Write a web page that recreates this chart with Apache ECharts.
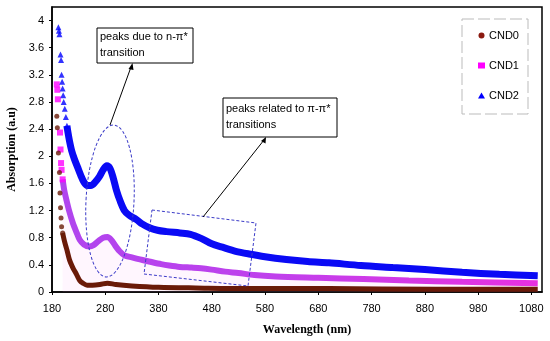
<!DOCTYPE html>
<html>
<head>
<meta charset="utf-8">
<script src="https://cdn.jsdelivr.net/npm/echarts@6/dist/echarts.min.js"></script>
<style>html,body{margin:0;padding:0;background:#fff}#c{width:550px;height:341px}</style>
</head>
<body>
<div id="c"></div>
<script>
// ---- data ----
const seriesNames = ['CND0', 'CND1', 'CND2'];
const xTitle = 'Wavelength (nm)';
const yTitle = 'Absorption (a.u)';

const cnd0 = [
  [189, 2.59], [190, 2.42], [192, 2.05], [194, 1.76], [195, 1.46], [196, 1.24], [197, 1.09],
  [198, 0.96], [200, 0.87], [204, 0.73], [208, 0.62], [213, 0.47], [219, 0.36], [226, 0.26],
  [232, 0.17], [238, 0.13], [246, 0.1], [256, 0.1], [270, 0.11], [284, 0.13], [300, 0.11],
  [330, 0.09], [380, 0.07], [450, 0.06], [550, 0.05], [700, 0.05], [900, 0.04], [1092, 0.04]
];
const cnd1 = [
  [189, 3.06], [190, 2.98], [191, 2.84], [195, 2.35], [196, 2.1], [197, 1.9], [198, 1.8],
  [200, 1.66], [203, 1.5], [207, 1.36], [212, 1.2], [219, 1.02], [226, 0.88], [232, 0.77],
  [240, 0.7], [250, 0.67], [258, 0.69], [267, 0.75], [276, 0.8], [284, 0.81], [291, 0.77],
  [299, 0.68], [307, 0.6], [316, 0.54], [330, 0.51], [345, 0.48], [362, 0.45], [385, 0.41],
  [400, 0.39], [420, 0.37], [442, 0.36], [460, 0.35], [480, 0.33], [505, 0.3], [530, 0.28],
  [560, 0.25], [600, 0.23], [680, 0.21], [765, 0.19], [850, 0.17], [950, 0.15], [1092, 0.13]
];
const cnd2 = [
  [192, 3.9], [193, 3.85], [194, 3.8], [196, 3.5], [197, 3.42], [198, 3.2], [199, 3.1],
  [200, 3.0], [201, 2.9], [202, 2.8], [204, 2.7], [206, 2.58], [208, 2.45], [210, 2.35],
  [213, 2.22], [217, 2.08], [222, 1.96], [228, 1.84], [234, 1.72], [240, 1.62], [246, 1.57],
  [253, 1.57], [261, 1.62], [269, 1.7], [276, 1.8], [283, 1.86], [289, 1.82], [295, 1.68],
  [301, 1.5], [308, 1.34], [316, 1.2], [325, 1.13], [338, 1.07], [350, 1.0], [362, 0.95],
  [378, 0.91], [395, 0.89], [420, 0.87], [440, 0.85], [460, 0.79], [480, 0.71], [500, 0.66],
  [525, 0.6], [550, 0.56], [580, 0.52], [620, 0.48], [660, 0.45], [700, 0.43], [760, 0.39],
  [820, 0.36], [880, 0.33], [950, 0.29], [1020, 0.26], [1092, 0.24]
];

const xMin = 180, xMax = 1100, xStep = 100;
const yMin = 0, yMax = 4.2, yStep = 0.4;

const annotationText1 = 'peaks due to n-π*\ntransition';
const annotationText2 = 'peaks related to π-π*\ntransitions';

// ---- chart ----
const chart = echarts.init(document.getElementById('c'), null, {renderer: 'canvas'});
const labelFont = {color: '#000', fontFamily: 'Liberation Sans, Arial', fontSize: 11};
const titleFont = {color: '#000', fontFamily: 'Liberation Serif, Times New Roman', fontSize: 12, fontWeight: 'bold'};
const dash = [3, 2];

// Where sampled points are sparse (steep start) they show as separate markers;
// after that they merge into a thick continuous band.
function makeSeries(name, data, split, symbol, symbolSize, markerColor, lineColor, lineWidth, z, extra) {
  const sparse = data.filter(p => p[0] <= split);
  const dense = data.filter(p => p[0] >= split);
  return [
    Object.assign({
      name: name, type: 'line', data: dense, smooth: 0.3, showSymbol: false,
      itemStyle: {color: markerColor},
      lineStyle: {color: lineColor, width: lineWidth}, z: z
    }, extra || {}),
    {
      name: name, type: 'scatter', data: sparse, symbol: symbol, symbolSize: symbolSize,
      itemStyle: {color: markerColor}, z: z
    }
  ];
}

const magentaGrad = new echarts.graphic.LinearGradient(0, 0, 1, 0, [
  {offset: 0, color: '#b045ee'}, {offset: 0.45, color: '#c040ec'}, {offset: 1, color: '#e830e0'}
]);

chart.setOption({
  animation: false,
  backgroundColor: '#fff',
  grid: {left: 52, right: 8, top: 7, bottom: 49, show: true, borderColor: '#000', borderWidth: 1.5,
    backgroundColor: 'transparent', containLabel: false, outerBoundsMode: 'none'},
  xAxis: {
    type: 'value', min: xMin, max: xMax, interval: xStep,
    name: xTitle, nameLocation: 'middle', nameGap: 32,
    nameTextStyle: Object.assign({}, titleFont, {padding: [0, 0, 0, 20]}),
    axisLine: {show: true, lineStyle: {color: '#000', width: 1.5}},
    axisTick: {show: true, length: 3, lineStyle: {color: '#000'}},
    axisLabel: Object.assign({}, labelFont, {margin: 11, showMaxLabel: false, formatter: v => String(v)}),
    splitLine: {show: false}
  },
  yAxis: {
    type: 'value', min: yMin, max: yMax, interval: yStep,
    name: yTitle, nameLocation: 'middle', nameGap: 25, nameTextStyle: titleFont,
    axisLine: {show: true, lineStyle: {color: '#000', width: 1.5}},
    axisTick: {show: true, length: 3, lineStyle: {color: '#000'}},
    axisLabel: Object.assign({}, labelFont, {margin: 8, showMaxLabel: false,
      formatter: v => String(Math.round(v * 10) / 10)}),
    splitLine: {show: false}
  },
  legend: {
    orient: 'vertical', left: 473, top: 25, itemGap: 19, itemWidth: 7, itemHeight: 6,
    textStyle: Object.assign({}, labelFont, {fontSize: 11, padding: [0, 0, 0, -1]}),
    data: [
      {name: seriesNames[0], icon: 'circle', itemStyle: {color: '#8b1a10'}},
      {name: seriesNames[1], icon: 'rect', itemStyle: {color: '#ff00ff'}},
      {name: seriesNames[2], icon: 'triangle', itemStyle: {color: '#0000ff'}}
    ]
  },
  series: [].concat(
    makeSeries(seriesNames[1], cnd1, 200, 'rect', 6, '#ff00ff', magentaGrad, 6, 2,
      {areaStyle: {color: 'rgba(255,150,240,0.13)'}}),
    makeSeries(seriesNames[0], cnd0, 200, 'circle', 5, '#6a1a08', '#6a1a08', 5, 3),
    makeSeries(seriesNames[2], cnd2, 208, 'triangle', 6, '#0000ff', '#0a0af5', 7, 4)
  ),
  graphic: [
    // legend frame
    {type: 'rect', z: 1, shape: {x: 462, y: 19, width: 66, height: 95},
      style: {fill: '#fff', stroke: '#bbbbbb', lineWidth: 1, lineDash: [12, 4]}},
    // n-pi* annotation
    {type: 'ellipse', z: 20, shape: {cx: 110, cy: 201, rx: 24, ry: 76}, rotation: -0.05, originX: 110, originY: 201,
      style: {fill: null, stroke: '#3b3bc8', lineWidth: 1, lineDash: dash}},
    {type: 'line', z: 20, shape: {x1: 110, y1: 125, x2: 131, y2: 67}, style: {stroke: '#000', lineWidth: 1}},
    {type: 'polygon', z: 20, shape: {points: [[132.5, 63], [128.5, 69], [133.5, 70]]}, style: {fill: '#000'}},
    {type: 'rect', z: 20, shape: {x: 97, y: 28, width: 96, height: 35}, style: {fill: '#fff', stroke: '#000', lineWidth: 1}},
    {type: 'text', z: 21, x: 100, y: 29, style: {text: annotationText1, font: '11px "Liberation Sans", Arial', fill: '#000', lineHeight: 16}},
    // pi-pi* annotation
    {type: 'polygon', z: 20, shape: {points: [[152, 210], [256, 223], [248, 286], [144, 274]]},
      style: {fill: null, stroke: '#3b3bc8', lineWidth: 1, lineDash: dash}},
    {type: 'line', z: 20, shape: {x1: 203, y1: 217, x2: 264, y2: 140}, style: {stroke: '#000', lineWidth: 1}},
    {type: 'polygon', z: 20, shape: {points: [[266, 137], [261, 141], [265.5, 143.5]]}, style: {fill: '#000'}},
    {type: 'rect', z: 20, shape: {x: 223, y: 98, width: 114, height: 39}, style: {fill: '#fff', stroke: '#000', lineWidth: 1}},
    {type: 'text', z: 21, x: 226, y: 101, style: {text: annotationText2, font: '11px "Liberation Sans", Arial', fill: '#000', lineHeight: 16}}
  ]
});
</script>
</body>
</html>
